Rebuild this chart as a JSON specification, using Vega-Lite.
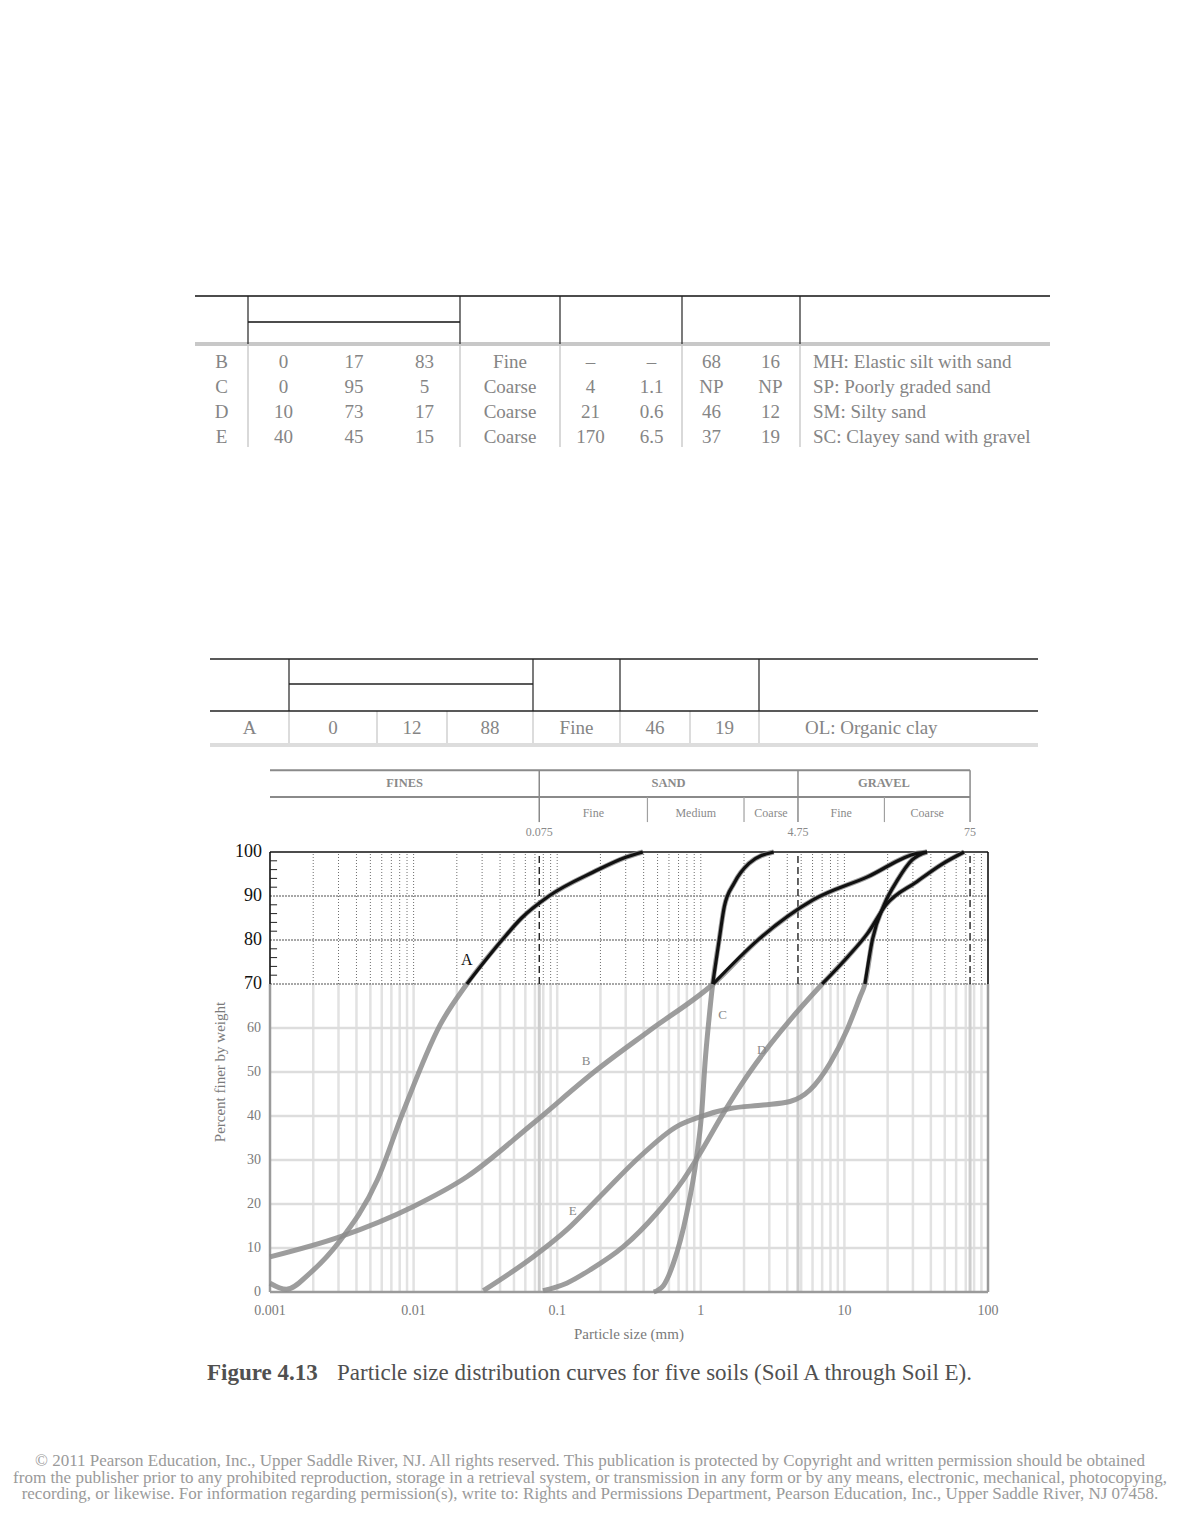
{
  "$schema": "https://vega.github.io/schema/vega-lite/v6.json",
  "width": 1180,
  "height": 1527,
  "padding": 0,
  "autosize": {"type": "none"},
  "background": "white",
  "config": {"view": {"stroke": null}, "font": "Liberation Serif"},
  "datasets": {
    "curves": [
      {"soil": "A", "size": 0.001, "finer": 2},
      {"soil": "A", "size": 0.0013, "finer": 0.6},
      {"soil": "A", "size": 0.0019, "finer": 4.3},
      {"soil": "A", "size": 0.0031, "finer": 11.8},
      {"soil": "A", "size": 0.0056, "finer": 25.5},
      {"soil": "A", "size": 0.0084, "finer": 40.7},
      {"soil": "A", "size": 0.0153, "finer": 60.7},
      {"soil": "A", "size": 0.0235, "finer": 70},
      {"soil": "A", "size": 0.0413, "finer": 80},
      {"soil": "A", "size": 0.0565, "finer": 85},
      {"soil": "A", "size": 0.0877, "finer": 90},
      {"soil": "A", "size": 0.18, "finer": 95.5},
      {"soil": "A", "size": 0.3, "finer": 98.8},
      {"soil": "A", "size": 0.395, "finer": 100},
      {"soil": "B", "size": 0.001, "finer": 8},
      {"soil": "B", "size": 0.0031, "finer": 12.6},
      {"soil": "B", "size": 0.0099, "finer": 19.4},
      {"soil": "B", "size": 0.0235, "finer": 26.2},
      {"soil": "B", "size": 0.0678, "finer": 38.3},
      {"soil": "B", "size": 0.189, "finer": 50.5},
      {"soil": "B", "size": 0.443, "finer": 59.5},
      {"soil": "B", "size": 1.22, "finer": 70},
      {"soil": "B", "size": 2.54, "finer": 80.2},
      {"soil": "B", "size": 6.04, "finer": 89.1},
      {"soil": "B", "size": 14.6, "finer": 94.4},
      {"soil": "B", "size": 32, "finer": 99.7},
      {"soil": "B", "size": 37.6, "finer": 100},
      {"soil": "C", "size": 0.47, "finer": 0},
      {"soil": "C", "size": 0.55, "finer": 1.5},
      {"soil": "C", "size": 0.644, "finer": 6.5},
      {"soil": "C", "size": 0.798, "finer": 17.9},
      {"soil": "C", "size": 0.936, "finer": 30.8},
      {"soil": "C", "size": 1.014, "finer": 40.6},
      {"soil": "C", "size": 1.07, "finer": 52},
      {"soil": "C", "size": 1.14, "finer": 62},
      {"soil": "C", "size": 1.21, "finer": 70},
      {"soil": "C", "size": 1.345, "finer": 80.2},
      {"soil": "C", "size": 1.458, "finer": 87.6},
      {"soil": "C", "size": 1.706, "finer": 92.9},
      {"soil": "C", "size": 2.167, "finer": 97.4},
      {"soil": "C", "size": 3.22, "finer": 100},
      {"soil": "D", "size": 0.0797, "finer": 0.3},
      {"soil": "D", "size": 0.1164, "finer": 2},
      {"soil": "D", "size": 0.169, "finer": 5},
      {"soil": "D", "size": 0.289, "finer": 10.3},
      {"soil": "D", "size": 0.493, "finer": 17.9},
      {"soil": "D", "size": 0.755, "finer": 25.5},
      {"soil": "D", "size": 0.987, "finer": 31.5},
      {"soil": "D", "size": 1.434, "finer": 40.6},
      {"soil": "D", "size": 1.875, "finer": 46.7},
      {"soil": "D", "size": 2.72, "finer": 54.2},
      {"soil": "D", "size": 4.18, "finer": 61.8},
      {"soil": "D", "size": 7.0, "finer": 70},
      {"soil": "D", "size": 10.56, "finer": 76.2},
      {"soil": "D", "size": 14.5, "finer": 81.5},
      {"soil": "D", "size": 19.5, "finer": 88},
      {"soil": "D", "size": 32.1, "finer": 93.3},
      {"soil": "D", "size": 47.6, "finer": 97.2},
      {"soil": "D", "size": 68.1, "finer": 100},
      {"soil": "E", "size": 0.0306, "finer": 0.3},
      {"soil": "E", "size": 0.0682, "finer": 8},
      {"soil": "E", "size": 0.1164, "finer": 14.1},
      {"soil": "E", "size": 0.1986, "finer": 21.7},
      {"soil": "E", "size": 0.377, "finer": 30.8},
      {"soil": "E", "size": 0.679, "finer": 37.6},
      {"soil": "E", "size": 0.987, "finer": 39.8},
      {"soil": "E", "size": 1.596, "finer": 41.7},
      {"soil": "E", "size": 2.72, "finer": 42.5},
      {"soil": "E", "size": 4.18, "finer": 43.3},
      {"soil": "E", "size": 5.75, "finer": 45.9},
      {"soil": "E", "size": 7.94, "finer": 52},
      {"soil": "E", "size": 10.4, "finer": 59.5},
      {"soil": "E", "size": 12.85, "finer": 67.1},
      {"soil": "E", "size": 13.9, "finer": 70},
      {"soil": "E", "size": 15.7, "finer": 80.2},
      {"soil": "E", "size": 18.9, "finer": 88},
      {"soil": "E", "size": 23.4, "finer": 93.6},
      {"soil": "E", "size": 29.6, "finer": 98.2},
      {"soil": "E", "size": 37.6, "finer": 100}
    ],
    "labels": [
      {"soil": "A", "size": 0.0235, "finer": 75.5},
      {"soil": "B", "size": 0.159, "finer": 52.5},
      {"soil": "C", "size": 1.42, "finer": 63},
      {"soil": "D", "size": 2.65, "finer": 55},
      {"soil": "E", "size": 0.128, "finer": 18.5}
    ],
    "gridx": [
      {"v": 0.002}, {"v": 0.003}, {"v": 0.004}, {"v": 0.005}, {"v": 0.006}, {"v": 0.007}, {"v": 0.008}, {"v": 0.009},
      {"v": 0.01}, {"v": 0.02}, {"v": 0.03}, {"v": 0.04}, {"v": 0.05}, {"v": 0.06}, {"v": 0.07}, {"v": 0.08}, {"v": 0.09},
      {"v": 0.1}, {"v": 0.2}, {"v": 0.3}, {"v": 0.4}, {"v": 0.5}, {"v": 0.6}, {"v": 0.7}, {"v": 0.8}, {"v": 0.9},
      {"v": 1}, {"v": 2}, {"v": 3}, {"v": 4}, {"v": 5}, {"v": 6}, {"v": 7}, {"v": 8}, {"v": 9},
      {"v": 10}, {"v": 20}, {"v": 30}, {"v": 40}, {"v": 50}, {"v": 60}, {"v": 70}, {"v": 80}, {"v": 90}
    ],
    "gridyLow": [{"v": 10}, {"v": 20}, {"v": 30}, {"v": 40}, {"v": 50}, {"v": 60}],
    "gridyHigh": [{"v": 70}, {"v": 80}, {"v": 90}],
    "minorTicks": [
      {"v": 72}, {"v": 74}, {"v": 76}, {"v": 78}, {"v": 82}, {"v": 84}, {"v": 86}, {"v": 88},
      {"v": 92}, {"v": 94}, {"v": 96}, {"v": 98}
    ],
    "yLabels": [
      {"v": 0}, {"v": 10}, {"v": 20}, {"v": 30}, {"v": 40}, {"v": 50},
      {"v": 60}, {"v": 70}, {"v": 80}, {"v": 90}, {"v": 100}
    ],
    "xLabels": [
      {"v": 0.001, "label": "0.001"},
      {"v": 0.01, "label": "0.01"},
      {"v": 0.1, "label": "0.1"},
      {"v": 1, "label": "1"},
      {"v": 10, "label": "10"},
      {"v": 100, "label": "100"}
    ],
    "bounds": [
      {"v": 0.075, "label": "0.075"},
      {"v": 4.75, "label": "4.75"},
      {"v": 75, "label": "75"}
    ],
    "subBounds": [{"v": 0.425}, {"v": 2}, {"v": 19}],
    "classes": [
      {"name": "FINES", "lo": 0.001, "hi": 0.075, "level": "main"},
      {"name": "SAND", "lo": 0.075, "hi": 4.75, "level": "main"},
      {"name": "GRAVEL", "lo": 4.75, "hi": 75, "level": "main"},
      {"name": "Fine", "lo": 0.075, "hi": 0.425, "level": "sub"},
      {"name": "Medium", "lo": 0.425, "hi": 2, "level": "sub"},
      {"name": "Coarse", "lo": 2, "hi": 4.75, "level": "sub"},
      {"name": "Fine", "lo": 4.75, "hi": 19, "level": "sub"},
      {"name": "Coarse", "lo": 19, "hi": 75, "level": "sub"}
    ],
    "table1": [
      {"Soil": "B", "Gravel": "0", "Sand": "17", "Fines": "83", "Type": "Fine", "Cu": "–", "Cc": "–", "LL": "68", "PI": "16", "Classification": "MH: Elastic silt with sand"},
      {"Soil": "C", "Gravel": "0", "Sand": "95", "Fines": "5", "Type": "Coarse", "Cu": "4", "Cc": "1.1", "LL": "NP", "PI": "NP", "Classification": "SP: Poorly graded sand"},
      {"Soil": "D", "Gravel": "10", "Sand": "73", "Fines": "17", "Type": "Coarse", "Cu": "21", "Cc": "0.6", "LL": "46", "PI": "12", "Classification": "SM: Silty sand"},
      {"Soil": "E", "Gravel": "40", "Sand": "45", "Fines": "15", "Type": "Coarse", "Cu": "170", "Cc": "6.5", "LL": "37", "PI": "19", "Classification": "SC: Clayey sand with gravel"}
    ],
    "t1h": [{"lvl": 0, "from": 0, "to": 10}, {"lvl": 1, "from": 1, "to": 4}],
    "t1v": [{"b": 1}, {"b": 4}, {"b": 5}, {"b": 7}, {"b": 9}],
    "table2": [
      {"Soil": "A", "Gravel": "0", "Sand": "12", "Fines": "88", "Type": "Fine", "LL": "46", "PI": "19", "Classification": "OL: Organic clay"}
    ],
    "t2h": [{"lvl": 0, "from": 0, "to": 8}, {"lvl": 1, "from": 1, "to": 4}, {"lvl": 2, "from": 0, "to": 8}],
    "t2v": [{"b": 1}, {"b": 4}, {"b": 5}, {"b": 7}],
    "t2body": [{"b": 1}, {"b": 2}, {"b": 3}, {"b": 4}, {"b": 5}, {"b": 6}, {"b": 7}],
    "caption": [
      {"line": 0, "fig": "Figure 4.13", "text": "Particle size distribution curves for five soils (Soil A through Soil E)."}
    ],
    "footer": [
      {"line": 1, "text": "© 2011 Pearson Education, Inc., Upper Saddle River, NJ. All rights reserved. This publication is protected by Copyright and written permission should be obtained"},
      {"line": 2, "text": "from the publisher prior to any prohibited reproduction, storage in a retrieval system, or transmission in any form or by any means, electronic, mechanical, photocopying,"},
      {"line": 3, "text": "recording, or likewise. For information regarding permission(s), write to: Rights and Permissions Department, Pearson Education, Inc., Upper Saddle River, NJ 07458."}
    ]
  },
  "layer": [
    {
      "layer": [
        {
          "data": {"name": "gridx"},
          "mark": {"type": "rule", "color": "#e2e2e2", "strokeWidth": 2.5},
          "encoding": {
            "x": {"field": "v", "type": "quantitative", "scale": {"type": "log", "domain": [0.001, 100], "range": [270, 988], "nice": false}, "axis": null},
            "y": {"datum": 0, "type": "quantitative", "scale": {"domain": [0, 100], "range": [1292, 852], "nice": false, "zero": false}, "axis": null},
            "y2": {"datum": 70}
          }
        },
        {
          "data": {"name": "gridyLow"},
          "mark": {"type": "rule", "color": "#dddddd", "strokeWidth": 2.5},
          "encoding": {
            "y": {"field": "v", "type": "quantitative", "scale": {"domain": [0, 100], "range": [1292, 852], "nice": false, "zero": false}, "axis": null},
            "x": {"datum": 0.001, "type": "quantitative", "scale": {"type": "log", "domain": [0.001, 100], "range": [270, 988], "nice": false}, "axis": null},
            "x2": {"datum": 100}
          }
        },
        {
          "data": {"name": "bounds"},
          "mark": {"type": "rule", "color": "#cdcdcd", "strokeWidth": 3},
          "encoding": {
            "x": {"field": "v", "type": "quantitative", "scale": {"type": "log", "domain": [0.001, 100], "range": [270, 988], "nice": false}, "axis": null},
            "y": {"datum": 0, "type": "quantitative", "scale": {"domain": [0, 100], "range": [1292, 852], "nice": false, "zero": false}, "axis": null},
            "y2": {"datum": 70}
          }
        },
        {
          "data": {"values": [{}]},
          "mark": {"type": "rule", "color": "#9a9a9a", "strokeWidth": 2.5},
          "encoding": {
            "x": {"datum": 0.001, "type": "quantitative", "scale": {"type": "log", "domain": [0.001, 100], "range": [270, 988], "nice": false}, "axis": null},
            "y": {"datum": 0, "type": "quantitative", "scale": {"domain": [0, 100], "range": [1292, 852], "nice": false, "zero": false}, "axis": null},
            "y2": {"datum": 70}
          }
        },
        {
          "data": {"values": [{}]},
          "mark": {"type": "rule", "color": "#9a9a9a", "strokeWidth": 2.5},
          "encoding": {
            "x": {"datum": 100, "type": "quantitative", "scale": {"type": "log", "domain": [0.001, 100], "range": [270, 988], "nice": false}, "axis": null},
            "y": {"datum": 0, "type": "quantitative", "scale": {"domain": [0, 100], "range": [1292, 852], "nice": false, "zero": false}, "axis": null},
            "y2": {"datum": 70}
          }
        },
        {
          "data": {"values": [{}]},
          "mark": {"type": "rule", "color": "#9a9a9a", "strokeWidth": 2.5},
          "encoding": {
            "y": {"datum": 0, "type": "quantitative", "scale": {"domain": [0, 100], "range": [1292, 852], "nice": false, "zero": false}, "axis": null},
            "x": {"datum": 0.001, "type": "quantitative", "scale": {"type": "log", "domain": [0.001, 100], "range": [270, 988], "nice": false}, "axis": null},
            "x2": {"datum": 100}
          }
        },
        {
          "data": {"name": "gridx"},
          "mark": {"type": "rule", "color": "#6e6e6e", "strokeWidth": 1, "strokeDash": [1, 2]},
          "encoding": {
            "x": {"field": "v", "type": "quantitative", "scale": {"type": "log", "domain": [0.001, 100], "range": [270, 988], "nice": false}, "axis": null},
            "y": {"datum": 70, "type": "quantitative", "scale": {"domain": [0, 100], "range": [1292, 852], "nice": false, "zero": false}, "axis": null},
            "y2": {"datum": 100}
          }
        },
        {
          "data": {"name": "gridyHigh"},
          "mark": {"type": "rule", "color": "#8a8a8a", "strokeWidth": 1.6, "strokeDash": [2, 1]},
          "encoding": {
            "y": {"field": "v", "type": "quantitative", "scale": {"domain": [0, 100], "range": [1292, 852], "nice": false, "zero": false}, "axis": null},
            "x": {"datum": 0.001, "type": "quantitative", "scale": {"type": "log", "domain": [0.001, 100], "range": [270, 988], "nice": false}, "axis": null},
            "x2": {"datum": 100}
          }
        },
        {
          "data": {"name": "bounds"},
          "mark": {"type": "rule", "color": "#111111", "strokeWidth": 1.3, "strokeDash": [7, 4]},
          "encoding": {
            "x": {"field": "v", "type": "quantitative", "scale": {"type": "log", "domain": [0.001, 100], "range": [270, 988], "nice": false}, "axis": null},
            "y": {"datum": 70, "type": "quantitative", "scale": {"domain": [0, 100], "range": [1292, 852], "nice": false, "zero": false}, "axis": null},
            "y2": {"datum": 100}
          }
        },
        {
          "data": {"values": [{}]},
          "mark": {"type": "rule", "color": "#111111", "strokeWidth": 1.6},
          "encoding": {
            "x": {"datum": 0.001, "type": "quantitative", "scale": {"type": "log", "domain": [0.001, 100], "range": [270, 988], "nice": false}, "axis": null},
            "y": {"datum": 70, "type": "quantitative", "scale": {"domain": [0, 100], "range": [1292, 852], "nice": false, "zero": false}, "axis": null},
            "y2": {"datum": 100}
          }
        },
        {
          "data": {"values": [{}]},
          "mark": {"type": "rule", "color": "#111111", "strokeWidth": 1.6},
          "encoding": {
            "x": {"datum": 100, "type": "quantitative", "scale": {"type": "log", "domain": [0.001, 100], "range": [270, 988], "nice": false}, "axis": null},
            "y": {"datum": 70, "type": "quantitative", "scale": {"domain": [0, 100], "range": [1292, 852], "nice": false, "zero": false}, "axis": null},
            "y2": {"datum": 100}
          }
        },
        {
          "data": {"values": [{}]},
          "mark": {"type": "rule", "color": "#111111", "strokeWidth": 1.6},
          "encoding": {
            "y": {"datum": 100, "type": "quantitative", "scale": {"domain": [0, 100], "range": [1292, 852], "nice": false, "zero": false}, "axis": null},
            "x": {"datum": 0.001, "type": "quantitative", "scale": {"type": "log", "domain": [0.001, 100], "range": [270, 988], "nice": false}, "axis": null},
            "x2": {"datum": 100}
          }
        },
        {
          "data": {"name": "minorTicks"},
          "mark": {"type": "rule", "color": "#222222", "strokeWidth": 1},
          "encoding": {
            "y": {"field": "v", "type": "quantitative", "scale": {"domain": [0, 100], "range": [1292, 852], "nice": false, "zero": false}, "axis": null},
            "x": {"datum": 0.001, "type": "quantitative", "scale": {"type": "log", "domain": [0.001, 100], "range": [270, 988], "nice": false}, "axis": null},
            "x2": {"datum": 0.00112}
          }
        },
        {
          "data": {"name": "curves"},
          "mark": {"type": "line", "color": "#8c8c8c", "strokeWidth": 5, "opacity": 0.85, "interpolate": "monotone"},
          "encoding": {
            "x": {"field": "size", "type": "quantitative", "scale": {"type": "log", "domain": [0.001, 100], "range": [270, 988], "nice": false}, "axis": null},
            "y": {"field": "finer", "type": "quantitative", "scale": {"domain": [0, 100], "range": [1292, 852], "nice": false, "zero": false}, "axis": null},
            "detail": {"field": "soil"}
          }
        },
        {
          "data": {"name": "curves"},
          "transform": [{"filter": "datum.finer >= 70"}],
          "mark": {"type": "line", "color": "#111111", "strokeWidth": 3.2, "interpolate": "monotone"},
          "encoding": {
            "x": {"field": "size", "type": "quantitative", "scale": {"type": "log", "domain": [0.001, 100], "range": [270, 988], "nice": false}, "axis": null},
            "y": {"field": "finer", "type": "quantitative", "scale": {"domain": [0, 100], "range": [1292, 852], "nice": false, "zero": false}, "axis": null},
            "detail": {"field": "soil"}
          }
        },
        {
          "data": {"name": "labels"},
          "transform": [{"filter": "datum.finer < 70"}],
          "mark": {"type": "text", "fontSize": 13, "color": "#8a8a8a"},
          "encoding": {
            "x": {"field": "size", "type": "quantitative", "scale": {"type": "log", "domain": [0.001, 100], "range": [270, 988], "nice": false}, "axis": null},
            "y": {"field": "finer", "type": "quantitative", "scale": {"domain": [0, 100], "range": [1292, 852], "nice": false, "zero": false}, "axis": null},
            "text": {"field": "soil"}
          }
        },
        {
          "data": {"name": "labels"},
          "transform": [{"filter": "datum.finer >= 70"}],
          "mark": {"type": "text", "fontSize": 16, "color": "#111111"},
          "encoding": {
            "x": {"field": "size", "type": "quantitative", "scale": {"type": "log", "domain": [0.001, 100], "range": [270, 988], "nice": false}, "axis": null},
            "y": {"field": "finer", "type": "quantitative", "scale": {"domain": [0, 100], "range": [1292, 852], "nice": false, "zero": false}, "axis": null},
            "text": {"field": "soil"}
          }
        },
        {
          "data": {"name": "yLabels"},
          "transform": [{"filter": "datum.v >= 70"}],
          "mark": {"type": "text", "fontSize": 18, "color": "#111111", "align": "right", "dx": -8},
          "encoding": {
            "y": {"field": "v", "type": "quantitative", "scale": {"domain": [0, 100], "range": [1292, 852], "nice": false, "zero": false}, "axis": null},
            "x": {"datum": 0.001, "type": "quantitative", "scale": {"type": "log", "domain": [0.001, 100], "range": [270, 988], "nice": false}, "axis": null},
            "text": {"field": "v"}
          }
        },
        {
          "data": {"name": "yLabels"},
          "transform": [{"filter": "datum.v < 70"}],
          "mark": {"type": "text", "fontSize": 14, "color": "#7a7a7a", "align": "right", "dx": -9},
          "encoding": {
            "y": {"field": "v", "type": "quantitative", "scale": {"domain": [0, 100], "range": [1292, 852], "nice": false, "zero": false}, "axis": null},
            "x": {"datum": 0.001, "type": "quantitative", "scale": {"type": "log", "domain": [0.001, 100], "range": [270, 988], "nice": false}, "axis": null},
            "text": {"field": "v"}
          }
        },
        {
          "data": {"name": "xLabels"},
          "mark": {"type": "text", "fontSize": 14, "color": "#7a7a7a", "dy": 19},
          "encoding": {
            "x": {"field": "v", "type": "quantitative", "scale": {"type": "log", "domain": [0.001, 100], "range": [270, 988], "nice": false}, "axis": null},
            "y": {"datum": 0, "type": "quantitative", "scale": {"domain": [0, 100], "range": [1292, 852], "nice": false, "zero": false}, "axis": null},
            "text": {"field": "label"}
          }
        },
        {
          "data": {"values": [{"title": "Particle size (mm)"}]},
          "mark": {"type": "text", "fontSize": 15, "color": "#7a7a7a", "dy": 42},
          "encoding": {
            "x": {"datum": 0.316, "type": "quantitative", "scale": {"type": "log", "domain": [0.001, 100], "range": [270, 988], "nice": false}, "axis": null},
            "y": {"datum": 0, "type": "quantitative", "scale": {"domain": [0, 100], "range": [1292, 852], "nice": false, "zero": false}, "axis": null},
            "text": {"field": "title"}
          }
        },
        {
          "data": {"values": [{"title": "Percent finer by weight"}]},
          "mark": {"type": "text", "fontSize": 15, "color": "#7a7a7a", "angle": 270, "dy": -50},
          "encoding": {
            "x": {"datum": 0.001, "type": "quantitative", "scale": {"type": "log", "domain": [0.001, 100], "range": [270, 988], "nice": false}, "axis": null},
            "y": {"datum": 50, "type": "quantitative", "scale": {"domain": [0, 100], "range": [1292, 852], "nice": false, "zero": false}, "axis": null},
            "text": {"field": "title"}
          }
        },
        {
          "data": {"values": [{}]},
          "mark": {"type": "rule", "color": "#8a8a8a", "strokeWidth": 2},
          "encoding": {
            "y": {"datum": 118.6, "type": "quantitative", "scale": {"domain": [0, 100], "range": [1292, 852], "nice": false, "zero": false}, "axis": null},
            "x": {"datum": 0.001, "type": "quantitative", "scale": {"type": "log", "domain": [0.001, 100], "range": [270, 988], "nice": false}, "axis": null},
            "x2": {"datum": 75}
          }
        },
        {
          "data": {"values": [{}]},
          "mark": {"type": "rule", "color": "#8a8a8a", "strokeWidth": 2},
          "encoding": {
            "y": {"datum": 112.5, "type": "quantitative", "scale": {"domain": [0, 100], "range": [1292, 852], "nice": false, "zero": false}, "axis": null},
            "x": {"datum": 0.001, "type": "quantitative", "scale": {"type": "log", "domain": [0.001, 100], "range": [270, 988], "nice": false}, "axis": null},
            "x2": {"datum": 75}
          }
        },
        {
          "data": {"name": "bounds"},
          "mark": {"type": "rule", "color": "#8a8a8a", "strokeWidth": 1.5},
          "encoding": {
            "x": {"field": "v", "type": "quantitative", "scale": {"type": "log", "domain": [0.001, 100], "range": [270, 988], "nice": false}, "axis": null},
            "y": {"datum": 106.8, "type": "quantitative", "scale": {"domain": [0, 100], "range": [1292, 852], "nice": false, "zero": false}, "axis": null},
            "y2": {"datum": 118.6}
          }
        },
        {
          "data": {"name": "subBounds"},
          "mark": {"type": "rule", "color": "#a0a0a0", "strokeWidth": 1.2},
          "encoding": {
            "x": {"field": "v", "type": "quantitative", "scale": {"type": "log", "domain": [0.001, 100], "range": [270, 988], "nice": false}, "axis": null},
            "y": {"datum": 106.8, "type": "quantitative", "scale": {"domain": [0, 100], "range": [1292, 852], "nice": false, "zero": false}, "axis": null},
            "y2": {"datum": 112.5}
          }
        },
        {
          "data": {"name": "classes"},
          "transform": [{"filter": "datum.level === 'main'"}, {"calculate": "sqrt(datum.lo * datum.hi)", "as": "mid"}],
          "mark": {"type": "text", "fontSize": 12.5, "fontWeight": "bold", "color": "#8a8a8a"},
          "encoding": {
            "x": {"field": "mid", "type": "quantitative", "scale": {"type": "log", "domain": [0.001, 100], "range": [270, 988], "nice": false}, "axis": null},
            "y": {"datum": 115.7, "type": "quantitative", "scale": {"domain": [0, 100], "range": [1292, 852], "nice": false, "zero": false}, "axis": null},
            "text": {"field": "name"}
          }
        },
        {
          "data": {"name": "classes"},
          "transform": [{"filter": "datum.level === 'sub'"}, {"calculate": "sqrt(datum.lo * datum.hi)", "as": "mid"}],
          "mark": {"type": "text", "fontSize": 12, "color": "#8a8a8a"},
          "encoding": {
            "x": {"field": "mid", "type": "quantitative", "scale": {"type": "log", "domain": [0.001, 100], "range": [270, 988], "nice": false}, "axis": null},
            "y": {"datum": 108.9, "type": "quantitative", "scale": {"domain": [0, 100], "range": [1292, 852], "nice": false, "zero": false}, "axis": null},
            "text": {"field": "name"}
          }
        },
        {
          "data": {"name": "bounds"},
          "mark": {"type": "text", "fontSize": 12, "color": "#8a8a8a"},
          "encoding": {
            "x": {"field": "v", "type": "quantitative", "scale": {"type": "log", "domain": [0.001, 100], "range": [270, 988], "nice": false}, "axis": null},
            "y": {"datum": 104.5, "type": "quantitative", "scale": {"domain": [0, 100], "range": [1292, 852], "nice": false, "zero": false}, "axis": null},
            "text": {"field": "label"}
          }
        }
      ]
    },
    {
      "layer": [
        {
          "data": {"name": "table1"},
          "transform": [
            {"window": [{"op": "row_number", "as": "rn"}]},
            {"calculate": "datum.rn + 2", "as": "ry"},
            {"fold": ["Soil", "Gravel", "Sand", "Fines", "Type", "Cu", "Cc", "LL", "PI"], "as": ["key", "value"]},
            {"calculate": "indexof(['Soil','Gravel','Sand','Fines','Type','Cu','Cc','LL','PI'], datum.key) + 0.5", "as": "cx"}
          ],
          "mark": {"type": "text", "fontSize": 19, "color": "#858585"},
          "encoding": {
            "x": {"field": "cx", "type": "quantitative", "scale": {"domain": [0, 1, 2, 3, 4, 5, 6, 7, 8, 9, 10], "range": [195, 248, 319, 389, 460, 560, 621, 682, 741, 800, 1050], "nice": false, "zero": false}, "axis": null},
            "y": {"field": "ry", "type": "quantitative", "scale": {"domain": [0, 1, 2, 3, 6, 7], "range": [296, 322, 344, 361.7, 436.7, 447], "nice": false, "zero": false}, "axis": null},
            "text": {"field": "value"}
          }
        },
        {
          "data": {"name": "table1"},
          "transform": [
            {"window": [{"op": "row_number", "as": "rn"}]},
            {"calculate": "datum.rn + 2", "as": "ry"}
          ],
          "mark": {"type": "text", "fontSize": 19, "color": "#858585", "align": "left", "dx": 13},
          "encoding": {
            "x": {"datum": 9, "type": "quantitative", "scale": {"domain": [0, 1, 2, 3, 4, 5, 6, 7, 8, 9, 10], "range": [195, 248, 319, 389, 460, 560, 621, 682, 741, 800, 1050], "nice": false, "zero": false}, "axis": null},
            "y": {"field": "ry", "type": "quantitative", "scale": {"domain": [0, 1, 2, 3, 6, 7], "range": [296, 322, 344, 361.7, 436.7, 447], "nice": false, "zero": false}, "axis": null},
            "text": {"field": "Classification"}
          }
        },
        {
          "data": {"name": "t1v"},
          "mark": {"type": "rule", "color": "#cccccc", "strokeWidth": 1.5},
          "encoding": {
            "x": {"field": "b", "type": "quantitative", "scale": {"domain": [0, 1, 2, 3, 4, 5, 6, 7, 8, 9, 10], "range": [195, 248, 319, 389, 460, 560, 621, 682, 741, 800, 1050], "nice": false, "zero": false}, "axis": null},
            "y": {"datum": 2, "type": "quantitative", "scale": {"domain": [0, 1, 2, 3, 6, 7], "range": [296, 322, 344, 361.7, 436.7, 447], "nice": false, "zero": false}, "axis": null},
            "y2": {"datum": 7}
          }
        },
        {
          "data": {"values": [{}]},
          "mark": {"type": "rule", "color": "#c8c8c8", "strokeWidth": 4},
          "encoding": {
            "x": {"datum": 0, "type": "quantitative", "scale": {"domain": [0, 1, 2, 3, 4, 5, 6, 7, 8, 9, 10], "range": [195, 248, 319, 389, 460, 560, 621, 682, 741, 800, 1050], "nice": false, "zero": false}, "axis": null},
            "x2": {"datum": 10},
            "y": {"datum": 2, "type": "quantitative", "scale": {"domain": [0, 1, 2, 3, 6, 7], "range": [296, 322, 344, 361.7, 436.7, 447], "nice": false, "zero": false}, "axis": null}
          }
        },
        {
          "data": {"name": "t1h"},
          "mark": {"type": "rule", "color": "#111111", "strokeWidth": 1.5},
          "encoding": {
            "x": {"field": "from", "type": "quantitative", "scale": {"domain": [0, 1, 2, 3, 4, 5, 6, 7, 8, 9, 10], "range": [195, 248, 319, 389, 460, 560, 621, 682, 741, 800, 1050], "nice": false, "zero": false}, "axis": null},
            "x2": {"field": "to"},
            "y": {"field": "lvl", "type": "quantitative", "scale": {"domain": [0, 1, 2, 3, 6, 7], "range": [296, 322, 344, 361.7, 436.7, 447], "nice": false, "zero": false}, "axis": null}
          }
        },
        {
          "data": {"name": "t1v"},
          "mark": {"type": "rule", "color": "#222222", "strokeWidth": 1.2},
          "encoding": {
            "x": {"field": "b", "type": "quantitative", "scale": {"domain": [0, 1, 2, 3, 4, 5, 6, 7, 8, 9, 10], "range": [195, 248, 319, 389, 460, 560, 621, 682, 741, 800, 1050], "nice": false, "zero": false}, "axis": null},
            "y": {"datum": 0, "type": "quantitative", "scale": {"domain": [0, 1, 2, 3, 6, 7], "range": [296, 322, 344, 361.7, 436.7, 447], "nice": false, "zero": false}, "axis": null},
            "y2": {"datum": 2}
          }
        }
      ]
    },
    {
      "layer": [
        {
          "data": {"name": "table2"},
          "transform": [
            {"fold": ["Soil", "Gravel", "Sand", "Fines", "Type", "LL", "PI"], "as": ["key", "value"]},
            {"calculate": "indexof(['Soil','Gravel','Sand','Fines','Type','LL','PI'], datum.key) + 0.5", "as": "cx"}
          ],
          "mark": {"type": "text", "fontSize": 19, "color": "#858585"},
          "encoding": {
            "x": {"field": "cx", "type": "quantitative", "scale": {"domain": [0, 1, 2, 3, 4, 5, 6, 7, 8], "range": [210, 289, 377, 447, 533, 620, 690, 759, 1038], "nice": false, "zero": false}, "axis": null},
            "y": {"datum": 3, "type": "quantitative", "scale": {"domain": [0, 1, 2, 3, 4], "range": [659, 684, 711, 728, 745], "nice": false, "zero": false}, "axis": null},
            "text": {"field": "value"}
          }
        },
        {
          "data": {"name": "table2"},
          "mark": {"type": "text", "fontSize": 19, "color": "#858585", "align": "left", "dx": 46},
          "encoding": {
            "x": {"datum": 7, "type": "quantitative", "scale": {"domain": [0, 1, 2, 3, 4, 5, 6, 7, 8], "range": [210, 289, 377, 447, 533, 620, 690, 759, 1038], "nice": false, "zero": false}, "axis": null},
            "y": {"datum": 3, "type": "quantitative", "scale": {"domain": [0, 1, 2, 3, 4], "range": [659, 684, 711, 728, 745], "nice": false, "zero": false}, "axis": null},
            "text": {"field": "Classification"}
          }
        },
        {
          "data": {"name": "t2body"},
          "mark": {"type": "rule", "color": "#d0d0d0", "strokeWidth": 1.5},
          "encoding": {
            "x": {"field": "b", "type": "quantitative", "scale": {"domain": [0, 1, 2, 3, 4, 5, 6, 7, 8], "range": [210, 289, 377, 447, 533, 620, 690, 759, 1038], "nice": false, "zero": false}, "axis": null},
            "y": {"datum": 2, "type": "quantitative", "scale": {"domain": [0, 1, 2, 3, 4], "range": [659, 684, 711, 728, 745], "nice": false, "zero": false}, "axis": null},
            "y2": {"datum": 4}
          }
        },
        {
          "data": {"values": [{}]},
          "mark": {"type": "rule", "color": "#dddddd", "strokeWidth": 4},
          "encoding": {
            "x": {"datum": 0, "type": "quantitative", "scale": {"domain": [0, 1, 2, 3, 4, 5, 6, 7, 8], "range": [210, 289, 377, 447, 533, 620, 690, 759, 1038], "nice": false, "zero": false}, "axis": null},
            "x2": {"datum": 8},
            "y": {"datum": 4, "type": "quantitative", "scale": {"domain": [0, 1, 2, 3, 4], "range": [659, 684, 711, 728, 745], "nice": false, "zero": false}, "axis": null}
          }
        },
        {
          "data": {"name": "t2h"},
          "mark": {"type": "rule", "color": "#222222", "strokeWidth": 1.4},
          "encoding": {
            "x": {"field": "from", "type": "quantitative", "scale": {"domain": [0, 1, 2, 3, 4, 5, 6, 7, 8], "range": [210, 289, 377, 447, 533, 620, 690, 759, 1038], "nice": false, "zero": false}, "axis": null},
            "x2": {"field": "to"},
            "y": {"field": "lvl", "type": "quantitative", "scale": {"domain": [0, 1, 2, 3, 4], "range": [659, 684, 711, 728, 745], "nice": false, "zero": false}, "axis": null}
          }
        },
        {
          "data": {"name": "t2v"},
          "mark": {"type": "rule", "color": "#222222", "strokeWidth": 1.2},
          "encoding": {
            "x": {"field": "b", "type": "quantitative", "scale": {"domain": [0, 1, 2, 3, 4, 5, 6, 7, 8], "range": [210, 289, 377, 447, 533, 620, 690, 759, 1038], "nice": false, "zero": false}, "axis": null},
            "y": {"datum": 0, "type": "quantitative", "scale": {"domain": [0, 1, 2, 3, 4], "range": [659, 684, 711, 728, 745], "nice": false, "zero": false}, "axis": null},
            "y2": {"datum": 2}
          }
        }
      ]
    },
    {
      "data": {"name": "caption"},
      "layer": [
        {
          "mark": {"type": "text", "align": "left", "dx": -383, "fontSize": 23, "fontWeight": "bold", "color": "#505050"},
          "encoding": {
            "y": {"field": "line", "type": "quantitative", "scale": {"domain": [0, 1, 3], "range": [1373, 1461, 1494], "nice": false, "zero": false}, "axis": null},
            "text": {"field": "fig"}
          }
        },
        {
          "mark": {"type": "text", "align": "left", "dx": -253, "fontSize": 23, "color": "#505050"},
          "encoding": {
            "y": {"field": "line", "type": "quantitative", "scale": {"domain": [0, 1, 3], "range": [1373, 1461, 1494], "nice": false, "zero": false}, "axis": null},
            "text": {"field": "text"}
          }
        }
      ]
    },
    {
      "data": {"name": "footer"},
      "mark": {"type": "text", "fontSize": 17, "color": "#9a9a9a"},
      "encoding": {
        "y": {"field": "line", "type": "quantitative", "scale": {"domain": [0, 1, 3], "range": [1373, 1461, 1494], "nice": false, "zero": false}, "axis": null},
        "text": {"field": "text"}
      }
    }
  ],
  "resolve": {"scale": {"x": "independent", "y": "independent"}}
}
